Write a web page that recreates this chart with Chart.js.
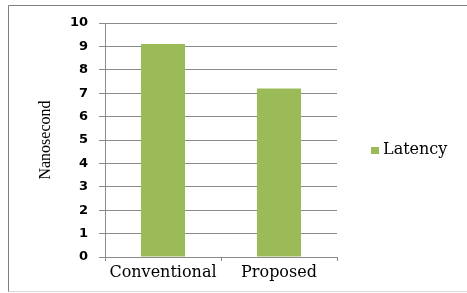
<!DOCTYPE html>
<html>
<head>
<meta charset="utf-8">
<script src="https://cdn.jsdelivr.net/npm/chart.js@4"></script>
<style>
  html, body { margin: 0; padding: 0; background: #fff; }
  #wrap { position: relative; width: 467px; height: 293px; }
</style>
</head>
<body>
<div id="wrap"><canvas id="latencyChart" width="467" height="293"></canvas></div>
<script>
const categories = ["Conventional", "Proposed"];
const latencyValues = [9.1, 7.2];
const seriesLabel = "Latency";
const yTitle = "Nanosecond";

const GRID = "#8a8a8a";
const BAR = "#9bbb59";

// outer frame + legend on the right, drawn on the canvas
const framePlugin = {
    id: "frame",
    beforeDraw(chart) {
        const c = chart.ctx;
        c.save();
        c.fillStyle = "#fff";
        c.fillRect(0, 0, chart.width, chart.height);
        c.lineWidth = 1;
        c.strokeStyle = "#7f7f7f";
        c.beginPath();
        c.moveTo(467, 5.5);
        c.lineTo(8.5, 5.5);
        c.lineTo(8.5, 292);
        c.stroke();
        c.strokeStyle = "#d9d9d9";
        c.beginPath();
        c.moveTo(8.5, 291.5);
        c.lineTo(467, 291.5);
        c.stroke();
        c.restore();
    },
    afterDraw(chart) {
        const c = chart.ctx;
        const ds = chart.data.datasets[0];
        const area = chart.chartArea;
        const midY = (area.top + area.bottom) / 2 + 10;
        c.save();
        c.fillStyle = ds.backgroundColor;
        c.fillRect(371, midY - 3, 8, 7);
        c.fillStyle = "#000";
        c.font = "16px 'DejaVu Serif'";
        c.textBaseline = "alphabetic";
        c.textAlign = "left";
        c.fillText(ds.label, 383, midY + 4);
        c.restore();
    },
};

new Chart(document.getElementById("latencyChart"), {
    type: "bar",
    data: {
        labels: categories,
        datasets: [
            {
                label: seriesLabel,
                data: latencyValues,
                backgroundColor: BAR,
                borderWidth: 0,
                categoryPercentage: 0.76,
                barPercentage: 0.5,
            },
        ],
    },
    options: {
        responsive: false,
        animation: false,
        layout: { padding: { left: 30, top: 23, right: 130, bottom: 0 } },
        plugins: {
            legend: { display: false },
            tooltip: { enabled: false },
        },
        scales: {
            x: {
                grid: {
                    offset: true,
                    drawOnChartArea: false,
                    drawTicks: true,
                    tickLength: 4,
                    color: GRID,
                },
                border: { color: GRID },
                ticks: {
                    color: "#000",
                    padding: 2,
                    font: { family: "DejaVu Serif", size: 16 },
                },
                afterFit: (s) => { s.height = 36; },
            },
            y: {
                min: 0,
                max: 10,
                ticks: {
                    stepSize: 1,
                    color: "#000",
                    padding: 11,
                    font: { family: "DejaVu Sans", size: 13, weight: "bold" },
                },
                grid: { color: GRID, tickLength: 6 },
                border: { color: GRID },
                title: {
                    display: true,
                    text: yTitle,
                    color: "#000",
                    padding: { top: 6, bottom: 0 },
                    font: { family: "Liberation Serif", size: 16 },
                },
                afterFit: (s) => { s.width = 75; },
            },
        },
    },
    plugins: [framePlugin],
});
</script>
</body>
</html>
